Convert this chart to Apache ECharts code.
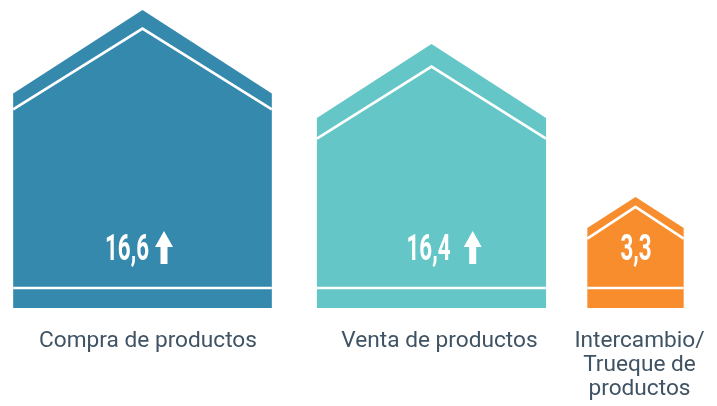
<!DOCTYPE html>
<html>
<head>
<meta charset="utf-8">
<style>html,body{margin:0;padding:0;background:#fff}#chart{width:717px;height:406px}</style>
<script src="https://cdn.jsdelivr.net/npm/echarts@6/dist/echarts.min.js"></script>
</head>
<body>
<div id="chart"></div>
<script>
// Chart content
const categories = ['Compra de productos', 'Venta de productos', 'Intercambio/\nTrueque de\nproductos'];
const values = [16.6, 16.4, 3.3];
const rising = [true, true, false];
// Pictogram size of each house on the hidden vertical axis (not proportional to its value)
const houseSizes = [298, 264, 111];

// Layout on the hidden horizontal axis, one entry per house
const houseCentres = [142.5, 431.5, 635.5];
const valueCentres = [127, 428.5, 636];
const captionCentres = [148, 439.5, 639.5];
const arrowCentres = [164, 472.7, null];
const apexInsets = [18.6, 22.6, 9.8];
const eaveInsets = [16, 20.6, 10.6];
const colors = ['#3589ad', '#65c6c7', '#f78d2d'];

const aspect = 0.868;
const roofShare = 0.28;
const groundBand = 20;
const ink = '#3f5364';

function renderHouse(params, api) {
  const i = params.dataIndex;
  const cx = api.value(0);
  const size = api.value(1);
  const base = api.coord([cx, 0]);
  const top = api.coord([cx, size]);
  const height = base[1] - top[1];
  const halfW = api.size([size * aspect / 2, 0])[0];
  const left = base[0] - halfW, right = base[0] + halfW;
  const eave = top[1] + height * roofShare;
  const apexLine = top[1] + apexInsets[i];
  const eaveLine = eave + eaveInsets[i];
  const groundLine = base[1] - groundBand;
  const whiteLine = { stroke: '#fff', lineWidth: 2.7, fill: null };

  const children = [
    { type: 'polygon',
      shape: { points: [[left, base[1]], [left, eave], [base[0], top[1]], [right, eave], [right, base[1]]] },
      style: { fill: colors[i] } },
    { type: 'polyline',
      shape: { points: [[left, eaveLine], [base[0], apexLine], [right, eaveLine]] },
      style: whiteLine },
    { type: 'line',
      shape: { x1: left, y1: groundLine, x2: right, y2: groundLine },
      style: whiteLine },
    // Condensed figure: a bold face squeezed horizontally
    { type: 'text', x: api.coord([valueCentres[i], 0])[0], y: 269, scaleX: 0.62,
      style: { text: values[i].toFixed(1).replace('.', ','), fill: '#fff',
        font: '700 36px Roboto', align: 'center', verticalAlign: 'bottom', lineHeight: 36 } },
    { type: 'text', x: api.coord([captionCentres[i], 0])[0], y: 330, scaleX: 1.03,
      style: { text: categories[i], fill: ink, font: '400 22px Roboto',
        align: 'center', verticalAlign: 'top', lineHeight: 23.8 } }
  ];
  if (rising[i]) {
    const ax = api.coord([arrowCentres[i], 0])[0];
    children.push({ type: 'polygon',
      shape: { points: [[ax - 3.5, 264], [ax - 3.5, 247], [ax - 9, 247], [ax, 231], [ax + 9, 247], [ax + 3.5, 247], [ax + 3.5, 264]] },
      style: { fill: '#fff' } });
  }
  return { type: 'group', children };
}

const chart = echarts.init(document.getElementById('chart'), null, { renderer: 'canvas' });
chart.setOption({
  animation: false,
  grid: { left: 0, top: 0, width: 717, height: 308 },
  xAxis: { type: 'value', min: 0, max: 717, show: false },
  yAxis: { type: 'value', min: 0, max: 308, show: false },
  series: [{
    type: 'custom',
    coordinateSystem: 'cartesian2d',
    clip: false,
    renderItem: renderHouse,
    encode: { x: 0, y: 1 },
    data: houseSizes.map((size, i) => [houseCentres[i], size])
  }]
});
</script>
</body>
</html>
